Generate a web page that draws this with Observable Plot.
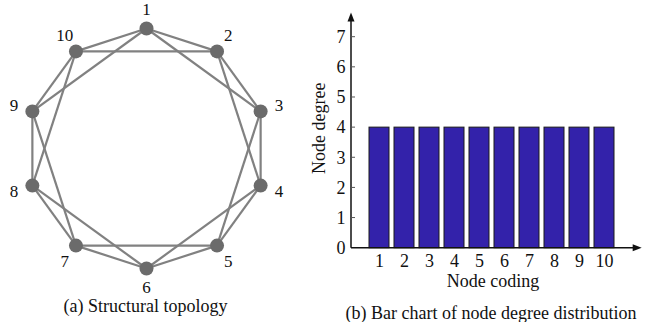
<!DOCTYPE html>
<html><head><meta charset="utf-8">
<script src="https://cdn.jsdelivr.net/npm/d3@7"></script>
<script src="https://cdn.jsdelivr.net/npm/@observablehq/plot@0.6"></script>
<style>
body{margin:0;background:#fff;}
#fig{position:relative;width:652px;height:322px;overflow:hidden;font-family:"Liberation Serif","Times New Roman",serif;color:#111;}
.panel{position:absolute;top:0;}
.cap{position:absolute;font-size:18px;line-height:18px;white-space:nowrap;transform:translateX(-50%);}
</style></head><body>
<div id="fig"></div>
<script>
// ---- data ----
const nodes = [1, 2, 3, 4, 5, 6, 7, 8, 9, 10];
const edges = [
  [1,2],[2,3],[3,4],[4,5],[5,6],[6,7],[7,8],[8,9],[9,10],[10,1],
  [1,3],[2,4],[3,5],[4,6],[5,7],[6,8],[7,9],[8,10],[9,1],[10,2]
];
const degrees = [4, 4, 4, 4, 4, 4, 4, 4, 4, 4];
const yTicks = [0, 1, 2, 3, 4, 5, 6, 7];
const captionA = "(a) Structural topology";
const captionB = "(b) Bar chart of node degree distribution";
const xLabel = "Node coding";
const yLabel = "Node degree";

const FONT = "'Liberation Serif','Times New Roman',serif";
const fig = document.getElementById("fig");

// ---- (a) circular layout of the ring lattice ----
const ring = (n, r) => {
  const a = 2 * Math.PI * (n - 1) / nodes.length;
  return {x: r * Math.sin(a), y: r * Math.cos(a)};
};
const pos = new Map(nodes.map(n => [n, ring(n, 1)]));

const topo = Plot.plot({
  width: 300, height: 300, margin: 0,
  x: {domain: [-146 / 120, 154 / 120], range: [0, 300], axis: null},
  y: {domain: [-152 / 120, 148 / 120], range: [300, 0], axis: null},
  style: {fontFamily: FONT, fontSize: "17px", background: "transparent", color: "#111"},
  marks: [
    Plot.link(edges, {
      x1: d => pos.get(d[0]).x, y1: d => pos.get(d[0]).y,
      x2: d => pos.get(d[1]).x, y2: d => pos.get(d[1]).y,
      stroke: "#818181", strokeWidth: 2.2
    }),
    Plot.dot(nodes, {x: n => pos.get(n).x, y: n => pos.get(n).y, r: 7, fill: "#6b6b6b"}),
    Plot.text(nodes, {
      x: n => ring(n, 1.16).x, y: n => ring(n, 1.16).y,
      text: n => String(n), fill: "#111", fontSize: 17
    })
  ]
});
topo.classList.add("panel");
topo.style.left = "0px";
fig.appendChild(topo);

// ---- (b) bar chart ----
const barData = nodes.map((n, i) => ({node: String(n), degree: degrees[i]}));

function axisArrows(index, scales, values, dims) {
  const g = d3.create("svg:g");
  const x0 = dims.marginLeft, y0 = scales.y(0);
  const yTop = scales.y(7.8), xEnd = dims.width - 10.3;
  const col = "#111";
  g.append("line").attr("x1", x0).attr("x2", x0).attr("y1", y0).attr("y2", yTop + 5)
    .attr("stroke", col).attr("stroke-width", 1.5);
  g.append("path").attr("d", `M${x0},${yTop}L${x0 - 3.5},${yTop + 9}L${x0 + 3.5},${yTop + 9}Z`).attr("fill", col);
  g.append("line").attr("x1", x0).attr("x2", xEnd - 5).attr("y1", y0).attr("y2", y0)
    .attr("stroke", col).attr("stroke-width", 1.5);
  g.append("path").attr("d", `M${xEnd},${y0}L${xEnd - 9},${y0 - 3.5}L${xEnd - 9},${y0 + 3.5}Z`).attr("fill", col);
  for (const t of yTicks.slice(1)) {
    g.append("line").attr("x1", x0).attr("x2", x0 + 4).attr("y1", scales.y(t)).attr("y2", scales.y(t))
      .attr("stroke", "#555").attr("stroke-width", 1);
  }
  return g.node();
}

const bars = Plot.plot({
  width: 352, height: 300,
  marginLeft: 51, marginRight: 18, marginTop: 8, marginBottom: 52.3,
  x: {domain: nodes.map(String), range: [64.15, 318.95], paddingInner: 0.2, paddingOuter: 0.1,
      tickSize: 0, tickPadding: 6, label: null},
  y: {domain: [0, 7], range: [247.7, 36.7], ticks: yTicks, tickFormat: "d", tickSize: 0, tickPadding: 6, label: null},
  style: {fontFamily: FONT, fontSize: "18px", background: "transparent", color: "#111"},
  marks: [
    Plot.barY(barData, {x: "node", y: "degree", fill: "#3322aa", stroke: "#1a1a1a", strokeWidth: 1}),
    axisArrows,
    Plot.text([xLabel], {frameAnchor: "bottom", lineAnchor: "middle", textAnchor: "middle", dy: 33,
      text: d => d, fontSize: 18, fill: "#111"}),
    Plot.text([yLabel], {frameAnchor: "left", lineAnchor: "middle", textAnchor: "middle", rotate: -90, dx: -31.8,
      text: d => d, fontSize: 18, fill: "#111"})
  ]
});
bars.classList.add("panel");
bars.style.left = "300px";
fig.appendChild(bars);

// ---- captions ----
function caption(text, cx, top) {
  const d = document.createElement("div");
  d.className = "cap";
  d.textContent = text;
  d.style.left = cx + "px";
  d.style.top = top + "px";
  fig.appendChild(d);
}
caption(captionA, 145.5, 296.5);
caption(captionB, 491, 303.5);
</script>
</body></html>
